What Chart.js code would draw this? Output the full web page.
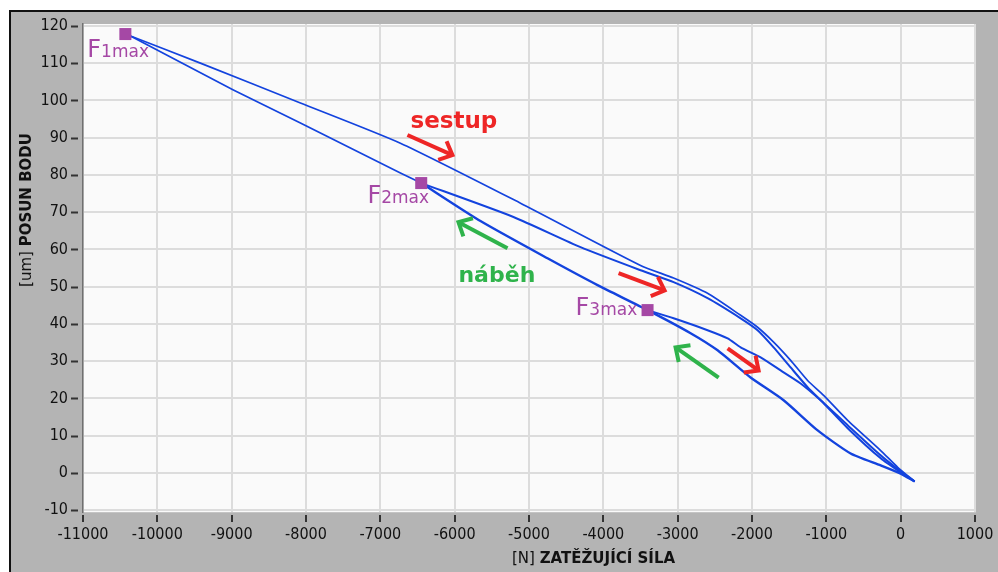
<!DOCTYPE html>
<html lang="cs">
<head>
  <meta charset="UTF-8">
  <title>Posun bodu vs. zatěžující síla</title>
  <script src="https://cdn.jsdelivr.net/npm/chart.js"></script>
  <style>
    body { margin: 0; background: #fff; }
    canvas { display: block; }
  </style>
</head>
<body>
  <canvas id="chart" width="998" height="572"></canvas>

  <script>
    // axis ticks
    const xTicks = [-11000, -10000, -9000, -8000, -7000, -6000, -5000, -4000, -3000, -2000, -1000, 0, 1000];
    const yTicks = [-10, 0, 10, 20, 30, 40, 50, 60, 70, 80, 90, 100, 110, 120];

    // loading branch (náběh), tip -> F2max -> F1max
    const loadLowX = [188, 0, -269, -673, -1117, -1575, -2019, -2463, -2826, -3405, -4078, -4751, -5653, -6450];
    const loadLowY = [-2.3, -0.2, 2.0, 5.2, 11.4, 19.5, 25.6, 32.9, 37.5, 43.7, 50.4, 57.6, 67.6, 77.8];
    const loadHighX = [-6450, -6730, -8075, -8977, -10336, -10430];
    const loadHighY = [77.8, 80.5, 93.9, 102.8, 117.0, 117.8];

    // unloading branches (sestup)
    const unload1X = [-10430, -9421, -8075, -6730, -5114, -3499, -3055, -2598, -2153, -1925, -1709, -1480, -1252, -1036, -713, -269, -40, 188];
    const unload1Y = [117.8, 110.0, 99.3, 88.5, 72.4, 55.7, 52.3, 48.2, 42.3, 39.1, 35.1, 30.2, 24.8, 20.8, 14.1, 6.0, 1.5, -2.3];
    const unload2X = [-6450, -5209, -4307, -3499, -3055, -2598, -2153, -1925, -1709, -1480, -1252, -1036, -713, -269, 0, 188];
    const unload2Y = [77.8, 68.7, 60.6, 54.4, 51.2, 46.9, 41.5, 38.3, 33.7, 28.3, 23.0, 18.7, 12.0, 3.9, 0.1, -2.3];
    const unload3X = [-3405, -3055, -2598, -2328, -2153, -1884, -1615, -1346, -1077, -713, -269, 0, 188];
    const unload3Y = [43.7, 41.5, 38.3, 36.1, 33.7, 31.0, 27.5, 24.0, 19.5, 12.8, 4.7, 0.4, -2.3];

    // maximum load points
    const maxX = [-10430, -6450, -3405];
    const maxY = [117.8, 77.8, 43.7];
    const maxNames = ['1max', '2max', '3max'];
    const maxLabelX = [-10942, -7174, -4374];
    const maxLabelY = [111.7, 72.4, 42.3];

    // arrows [x1, y1, x2, y2] in data units
    const redArrows = [[-6635, 90.7, -6030, 85.3], [-3795, 53.6, -3176, 49.0], [-2328, 33.4, -1911, 27.5]];
    const greenArrows = [[-5289, 60.3, -5949, 67.3], [-2449, 25.6, -3028, 33.7]];
    const sestupPos = [-6595, 92.6];
    const nabehPos = [-5949, 51.2];

    const BLUE = '#1343de';
    const PURPLE = '#a548a5';
    const RED = '#ee2626';
    const GREEN = '#2fb34b';
    const FONT = '"DejaVu Sans Condensed", "DejaVu Sans", sans-serif';

    function pts(xs, ys) {
      return xs.map((x, i) => ({ x: x, y: ys[i] }));
    }

    function lineSet(xs, ys, w) {
      return {
        data: pts(xs, ys),
        showLine: true,
        borderColor: BLUE,
        borderWidth: w,
        pointRadius: 0,
        tension: 0.2,
        order: 2
      };
    }

    const panelPlugin = {
      id: 'panel',
      beforeDraw(chart) {
        const ctx = chart.ctx;
        const a = chart.chartArea;
        ctx.save();
        ctx.fillStyle = '#fff';
        ctx.fillRect(0, 0, chart.width, chart.height);
        ctx.fillStyle = '#b4b4b4';
        ctx.fillRect(9, 10, chart.width - 9, chart.height - 10);
        ctx.strokeStyle = '#111';
        ctx.lineWidth = 2;
        ctx.beginPath();
        ctx.moveTo(10, chart.height);
        ctx.lineTo(10, 11);
        ctx.lineTo(chart.width, 11);
        ctx.stroke();
        ctx.fillStyle = '#fafafa';
        ctx.fillRect(a.left, a.top, a.right - a.left, a.bottom - a.top);
        ctx.restore();
      },
      afterDraw(chart) {
        const ctx = chart.ctx;
        const xs = chart.scales.x;
        const ys = chart.scales.y;
        const a = chart.chartArea;
        ctx.save();

        // tick marks, detached from the plot edge
        ctx.strokeStyle = '#333';
        ctx.lineWidth = 2;
        yTicks.forEach(v => {
          const py = Math.round(ys.getPixelForValue(v)) + 0.5;
          ctx.beginPath();
          ctx.moveTo(a.left - 12, py);
          ctx.lineTo(a.left - 5, py);
          ctx.stroke();
        });
        xTicks.forEach(v => {
          const px = Math.round(xs.getPixelForValue(v));
          ctx.beginPath();
          ctx.moveTo(px, a.bottom + 3);
          ctx.lineTo(px, a.bottom + 10);
          ctx.stroke();
        });

        // axis titles
        ctx.fillStyle = '#111';
        ctx.textBaseline = 'alphabetic';
        ctx.textAlign = 'left';
        let t1 = '[N] ', t2 = 'ZATĚŽUJÍCÍ SÍLA';
        ctx.font = '15px "DejaVu Sans", sans-serif';
        let w1 = ctx.measureText(t1).width;
        ctx.fillText(t1, 512, 563);
        ctx.font = 'bold 15px "DejaVu Sans", sans-serif';
        ctx.fillText(t2, 512 + w1, 563);

        ctx.save();
        ctx.translate(31, 210);
        ctx.rotate(-Math.PI / 2);
        t1 = '[um] ';
        t2 = 'POSUN BODU';
        ctx.font = '15px "DejaVu Sans", sans-serif';
        w1 = ctx.measureText(t1).width;
        ctx.font = 'bold 15px "DejaVu Sans", sans-serif';
        const w2 = ctx.measureText(t2).width;
        const start = -(w1 + w2) / 2;
        ctx.font = '15px "DejaVu Sans", sans-serif';
        ctx.fillText(t1, start, 0);
        ctx.font = 'bold 15px "DejaVu Sans", sans-serif';
        ctx.fillText(t2, start + w1, 0);
        ctx.restore();

        // F max labels
        ctx.fillStyle = PURPLE;
        maxNames.forEach((name, i) => {
          const px = xs.getPixelForValue(maxLabelX[i]);
          const py = ys.getPixelForValue(maxLabelY[i]);
          ctx.font = '24px "DejaVu Sans", sans-serif';
          ctx.fillText('F', px, py);
          const fw = ctx.measureText('F').width;
          ctx.font = '17px "DejaVu Sans", sans-serif';
          ctx.fillText(name, px + fw, py);
        });

        // arrows
        function arrow(p, color) {
          const x1 = xs.getPixelForValue(p[0]), y1 = ys.getPixelForValue(p[1]);
          const x2 = xs.getPixelForValue(p[2]), y2 = ys.getPixelForValue(p[3]);
          const ang = Math.atan2(y2 - y1, x2 - x1);
          ctx.strokeStyle = color;
          ctx.lineWidth = 4;
          ctx.lineCap = 'butt';
          ctx.beginPath();
          ctx.moveTo(x1, y1);
          ctx.lineTo(x2, y2);
          ctx.stroke();
          ctx.beginPath();
          ctx.moveTo(x2 + 15 * Math.cos(ang + Math.PI - 0.75), y2 + 15 * Math.sin(ang + Math.PI - 0.75));
          ctx.lineTo(x2, y2);
          ctx.lineTo(x2 + 15 * Math.cos(ang + Math.PI + 0.75), y2 + 15 * Math.sin(ang + Math.PI + 0.75));
          ctx.stroke();
        }
        redArrows.forEach(p => arrow(p, RED));
        greenArrows.forEach(p => arrow(p, GREEN));

        ctx.font = 'bold 23px "DejaVu Sans", sans-serif';
        ctx.fillStyle = RED;
        ctx.fillText('sestup', xs.getPixelForValue(sestupPos[0]), ys.getPixelForValue(sestupPos[1]));
        ctx.font = 'bold 22px "DejaVu Sans", sans-serif';
        ctx.fillStyle = GREEN;
        ctx.fillText('náběh', xs.getPixelForValue(nabehPos[0]), ys.getPixelForValue(nabehPos[1]));

        ctx.restore();
      }
    };

    new Chart(document.getElementById('chart'), {
      type: 'scatter',
      data: {
        datasets: [
          {
            data: pts(maxX, maxY),
            pointStyle: 'rect',
            pointRadius: 8.5,
            pointBackgroundColor: PURPLE,
            pointBorderWidth: 0,
            showLine: false,
            order: 0
          },
          lineSet(loadLowX, loadLowY, 2.4),
          lineSet(loadHighX, loadHighY, 1.7),
          lineSet(unload1X, unload1Y, 1.7),
          lineSet(unload2X, unload2Y, 2),
          lineSet(unload3X, unload3Y, 2)
        ]
      },
      options: {
        responsive: false,
        animation: false,
        devicePixelRatio: 1,
        layout: { padding: { left: 0, right: 23, top: 24, bottom: 0 } },
        plugins: {
          legend: { display: false },
          tooltip: { enabled: false }
        },
        scales: {
          x: {
            type: 'linear',
            min: -11000,
            max: 1000,
            afterFit: s => { s.height = 60; },
            afterBuildTicks: s => { s.ticks = xTicks.map(v => ({ value: v })); },
            grid: { color: '#dcdcdc', lineWidth: 2, tickLength: 10, tickColor: 'rgba(0,0,0,0)' },
            border: { color: '#c4c4c4', width: 1 },
            ticks: {
              autoSkip: false,
              maxRotation: 0,
              padding: 3,
              color: '#111',
              font: { family: FONT, size: 16 },
              callback: v => String(v)
            }
          },
          y: {
            type: 'linear',
            min: -10.5,
            max: 120.5,
            afterFit: s => { s.width = 83; },
            afterBuildTicks: s => { s.ticks = yTicks.map(v => ({ value: v })); },
            grid: { color: '#dcdcdc', lineWidth: 2, tickLength: 11, tickColor: 'rgba(0,0,0,0)' },
            border: { color: '#707070', width: 1.5 },
            ticks: {
              padding: 4,
              color: '#111',
              font: { family: FONT, size: 16 },
              callback: v => String(v)
            }
          }
        }
      },
      plugins: [panelPlugin]
    });
  </script>
</body>
</html>
